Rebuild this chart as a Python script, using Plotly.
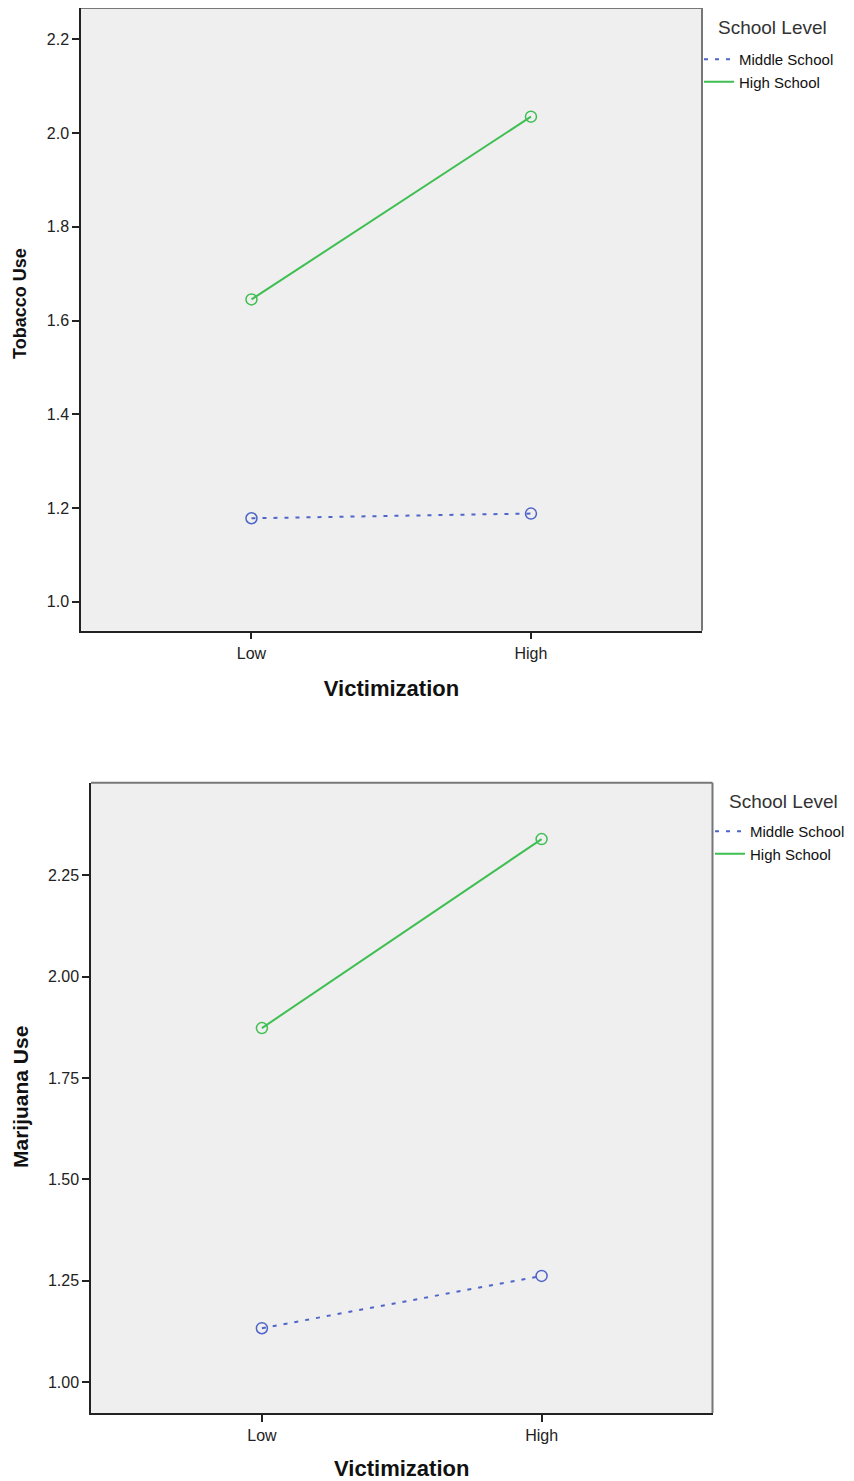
import plotly.graph_objects as go

categories = ["Low", "High"]
groups = ["Middle School", "High School"]

tobacco_middle = [1.178, 1.188]
tobacco_high = [1.645, 2.035]
marijuana_middle = [1.133, 1.262]
marijuana_high = [1.873, 2.339]

tobacco_ticks = [1.0, 1.2, 1.4, 1.6, 1.8, 2.0, 2.2]
marijuana_ticks = [1.00, 1.25, 1.50, 1.75, 2.00, 2.25]

BLUE = "#4f65c9"
GREEN = "#3fbf52"
FONT = "Liberation Sans, Arial, sans-serif"
OFF = 8  # page body margin
W, H = 854 - OFF, 1481 - OFF

fig = go.Figure()

def add_panel(fig, xref, yref, mid, high, legend_name):
    fig.add_trace(go.Scatter(x=[0, 1], y=mid, mode="lines+markers", xaxis=xref, yaxis=yref,
                             line=dict(color=BLUE, width=2, dash="4px,7px"),
                             marker=dict(symbol="circle-open", size=11, color=BLUE, line=dict(width=1.5)),
                             showlegend=False, hoverinfo="skip"))
    fig.add_trace(go.Scatter(x=[0, 1], y=high, mode="lines+markers", xaxis=xref, yaxis=yref,
                             line=dict(color=GREEN, width=2),
                             marker=dict(symbol="circle-open", size=11, color=GREEN, line=dict(width=1.5)),
                             showlegend=False, hoverinfo="skip"))
    fig.add_trace(go.Scatter(x=[None], y=[None], mode="lines", xaxis=xref, yaxis=yref,
                             name=groups[0], legend=legend_name,
                             line=dict(color=BLUE, width=2, dash="4px,7px")))
    fig.add_trace(go.Scatter(x=[None], y=[None], mode="lines", xaxis=xref, yaxis=yref,
                             name=groups[1], legend=legend_name,
                             line=dict(color=GREEN, width=2)))

add_panel(fig, "x", "y", tobacco_middle, tobacco_high, "legend")
add_panel(fig, "x2", "y2", marijuana_middle, marijuana_high, "legend2")

def clamp(v):
    return max(0.0, min(1.0, v))

def fx(p):
    return clamp((p - OFF) / W)

def fy(p):
    return clamp(1 - (p - OFF) / H)

def px_x(a, b):
    return [fx(a), fx(b)]

def px_y(top, bottom):
    return [fy(bottom), fy(top)]

axis_common = dict(showline=True, linecolor="#222222", linewidth=1.5, ticks="outside",
                   ticklen=7, tickwidth=1.5, tickcolor="#222222", showgrid=False, zeroline=False,
                   tickfont=dict(family=FONT, size=16, color="#222222"))

xtitle = lambda: dict(text="<b>Victimization</b>", font=dict(family=FONT, size=22, color="#111111"), standoff=20)

legend_common = dict(xanchor="left", yanchor="top", bgcolor="rgba(0,0,0,0)", borderwidth=0,
                     itemwidth=30, tracegroupgap=0,
                     font=dict(family=FONT, size=15, color="#111111"))

fig.update_layout(
    width=W, height=H,
    margin=dict(l=0, r=0, t=0, b=0),
    paper_bgcolor="white",
    plot_bgcolor="#efefef",
    showlegend=True,
    xaxis=dict(domain=px_x(81, 702), anchor="y", range=[-0.61, 1.612],
               tickvals=[0, 1], ticktext=categories, title=xtitle(), **axis_common),
    yaxis=dict(domain=px_y(8, 630.7), anchor="x", range=[0.938, 2.267],
               tickvals=tobacco_ticks, tickformat=".1f", **axis_common),
    xaxis2=dict(domain=px_x(91, 712.5), anchor="y2", range=[-0.611, 1.611],
                tickvals=[0, 1], ticktext=categories, title=xtitle(), **axis_common),
    yaxis2=dict(domain=px_y(782.7, 1413), anchor="x2", range=[0.924, 2.478],
                tickvals=marijuana_ticks, tickformat=".2f", **axis_common),
    legend=dict(x=fx(699), y=fy(43), **legend_common),
    legend2=dict(x=fx(710), y=fy(815), **legend_common),
)

# y-axis titles and legend titles
fig.add_annotation(text="<b>Tobacco Use</b>", textangle=-90, xref="paper", yref="paper",
                   x=fx(20), y=fy(304), xanchor="center", yanchor="middle", showarrow=False,
                   font=dict(family=FONT, size=18, color="#111111"))
fig.add_annotation(text="<b>Marijuana Use</b>", textangle=-90, xref="paper", yref="paper",
                   x=fx(20), y=fy(1097), xanchor="center", yanchor="middle", showarrow=False,
                   font=dict(family=FONT, size=21, color="#111111"))
fig.add_annotation(text="School Level", xref="paper", yref="paper",
                   x=fx(716), y=fy(28), xanchor="left", yanchor="middle", showarrow=False,
                   font=dict(family=FONT, size=19, color="#333333"))
fig.add_annotation(text="School Level", xref="paper", yref="paper",
                   x=fx(727), y=fy(801), xanchor="left", yanchor="middle", showarrow=False,
                   font=dict(family=FONT, size=19, color="#333333"))

# gray top/right frame lines
for xd, yd in (("x domain", "y domain"), ("x2 domain", "y2 domain")):
    fig.add_shape(type="line", xref=xd, yref=yd, x0=0, x1=1, y0=1, y1=1,
                  line=dict(color="#777777", width=2), layer="above")
    fig.add_shape(type="line", xref=xd, yref=yd, x0=1, x1=1, y0=0, y1=1,
                  line=dict(color="#777777", width=2), layer="above")

fig.write_html("out.html")
